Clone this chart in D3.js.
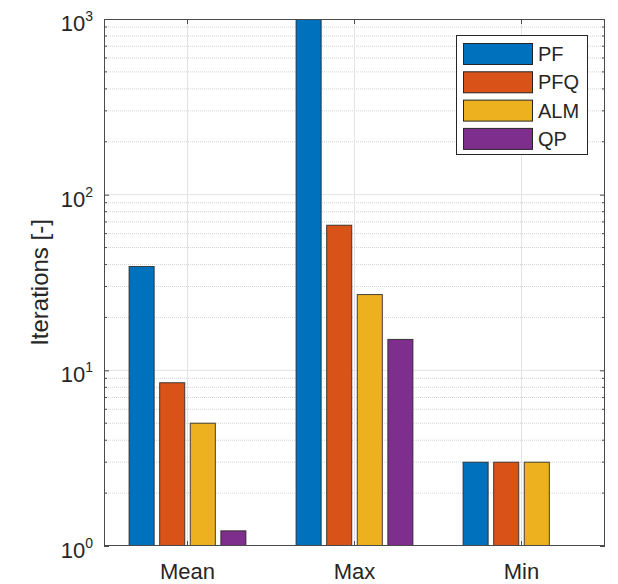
<!DOCTYPE html>
<html>
<head>
<meta charset="utf-8">
<script src="https://cdn.jsdelivr.net/npm/d3@7"></script>
<style>
  body { margin: 0; background: #fff; }
  text { font-family: "Liberation Sans", Arial, Helvetica, sans-serif; fill: #262626; }
</style>
</head>
<body>
<svg id="chart" width="618" height="584"></svg>
<script>
(function(d3) {
    'use strict';

    var categories = ['Mean', 'Max', 'Min'];
    var series = ['PF', 'PFQ', 'ALM', 'QP'];
    var colors = ['#0072BD', '#D95319', '#EDB120', '#7E2F8E'];
    var values = {
        PF:  [39, 1000, 3],
        PFQ: [8.5, 67, 3],
        ALM: [5, 27, 3],
        QP:  [1.22, 15, 1]
    };
    var yTickExps = [0, 1, 2, 3];

    var margin = { left: 104, right: 13, top: 19, bottom: 38 };
    var width = 618, height = 584;
    var svg = d3.select('#chart');

    var x = d3.scaleBand()
        .domain(categories)
        .range([margin.left, width - margin.right])
        .paddingInner(0).paddingOuter(0);

    var xs = d3.scaleBand()
        .domain(series)
        .range([0, x.bandwidth()])
        .paddingInner(0.18).paddingOuter(0.82);

    var y = d3.scaleLog()
        .domain([1, 1000])
        .range([height - margin.bottom, margin.top]);

    var plotW = width - margin.right - margin.left;

    // minor grid (dotted)
    var minor = [];
    for (var e = 0; e < 3; e++) {
        for (var m = 2; m <= 9; m++) minor.push(m * Math.pow(10, e));
    }
    var grid = svg.append('g').attr('class', 'grid');
    grid.selectAll('line.minor').data(minor).enter().append('line')
        .attr('class', 'minor')
        .attr('x1', margin.left).attr('x2', width - margin.right)
        .attr('y1', function(d) { return y(d); }).attr('y2', function(d) { return y(d); })
        .attr('stroke', '#d4d4d4').attr('stroke-width', 1)
        .attr('stroke-dasharray', '1,1');
    grid.selectAll('line.major').data([10, 100]).enter().append('line')
        .attr('class', 'major')
        .attr('x1', margin.left).attr('x2', width - margin.right)
        .attr('y1', function(d) { return y(d); }).attr('y2', function(d) { return y(d); })
        .attr('stroke', '#e3e3e3').attr('stroke-width', 1);
    grid.selectAll('line.vx').data(categories).enter().append('line')
        .attr('class', 'vx')
        .attr('x1', function(d) { return x(d) + x.bandwidth() / 2; })
        .attr('x2', function(d) { return x(d) + x.bandwidth() / 2; })
        .attr('y1', margin.top).attr('y2', height - margin.bottom)
        .attr('stroke', '#e3e3e3').attr('stroke-width', 1);

    // bars
    svg.append('clipPath').attr('id', 'plotclip').append('rect')
        .attr('x', margin.left).attr('y', margin.top)
        .attr('width', plotW).attr('height', height - margin.bottom - margin.top);

    var bars = svg.append('g').attr('clip-path', 'url(#plotclip)');
    series.forEach(function(s, si) {
        bars.selectAll('rect.s' + si).data(values[s]).enter().append('rect')
            .attr('x', function(d, i) { return x(categories[i]) + xs(s); })
            .attr('width', xs.bandwidth())
            .attr('y', function(d) { return y(d); })
            .attr('height', function(d) { return y(1) - y(d); })
            .attr('fill', colors[si])
            .attr('stroke', '#262626').attr('stroke-width', 1)
            .attr('stroke-opacity', function(d) { return d > 1 ? 0.85 : 0; });
    });

    // axes box
    var axisColor = '#4a4a4a';
    var yLeft = d3.axisLeft(y).tickValues(yTickExps.map(function(p) { return Math.pow(10, p); }))
        .tickSize(-5).tickFormat('');
    var yRight = d3.axisRight(y).tickValues(yTickExps.map(function(p) { return Math.pow(10, p); }))
        .tickSize(-5).tickFormat('');
    var gl = svg.append('g').attr('transform', 'translate(' + margin.left + ',0)').call(yLeft);
    var gr = svg.append('g').attr('transform', 'translate(' + (width - margin.right) + ',0)').call(yRight);
    var xb = d3.axisBottom(x).tickSize(-5).tickFormat('');
    var xt = d3.axisTop(x).tickSize(-5).tickFormat('');
    var gb = svg.append('g').attr('transform', 'translate(0,' + (height - margin.bottom) + ')').call(xb);
    var gt = svg.append('g').attr('transform', 'translate(0,' + margin.top + ')').call(xt);
    [gl, gr, gb, gt].forEach(function(g) {
        g.select('.domain').remove();
        g.selectAll('line').attr('stroke', axisColor);
    });

    // minor ticks
    [[margin.left, 3], [width - margin.right, -3]].forEach(function(p) {
        svg.append('g').selectAll('line').data(minor).enter().append('line')
            .attr('x1', p[0]).attr('x2', p[0] + p[1])
            .attr('y1', function(d) { return y(d); }).attr('y2', function(d) { return y(d); })
            .attr('stroke', axisColor);
    });

    svg.append('rect')
        .attr('x', margin.left + 0.5).attr('y', margin.top + 0.5)
        .attr('width', plotW - 1).attr('height', height - margin.bottom - margin.top - 1)
        .attr('fill', 'none').attr('stroke', axisColor).attr('stroke-width', 1);

    // y tick labels 10^n
    var yl = svg.append('g');
    yTickExps.forEach(function(p) {
        var t = yl.append('text')
            .attr('x', margin.left - 11)
            .attr('y', y(Math.pow(10, p)) + 12)
            .attr('text-anchor', 'end')
            .style('font-size', '22px');
        t.append('tspan').text('10');
        t.append('tspan').attr('dy', -10).style('font-size', '14px').text(p);
    });

    // x tick labels
    svg.append('g').selectAll('text').data(categories).enter().append('text')
        .attr('x', function(d) { return x(d) + x.bandwidth() / 2; })
        .attr('y', height - margin.bottom + 33)
        .attr('text-anchor', 'middle')
        .style('font-size', '22px')
        .text(function(d) { return d; });

    // y axis label
    svg.append('text')
        .attr('transform', 'translate(48,' + y(Math.sqrt(1000)) + ') rotate(-90)')
        .attr('text-anchor', 'middle')
        .style('font-size', '24px')
        .text('Iterations [-]');

    // legend
    var lg = svg.append('g').attr('transform', 'translate(456,35)');
    lg.append('rect').attr('x', 0.5).attr('y', 0.5).attr('width', 131).attr('height', 119)
        .attr('fill', '#fff').attr('stroke', '#262626').attr('stroke-width', 1);
    series.forEach(function(s, i) {
        var row = lg.append('g').attr('transform', 'translate(7,' + (8 + i * 28.3) + ')');
        row.append('rect').attr('x', 0.5).attr('y', 0.5).attr('width', 69).attr('height', 21)
            .attr('fill', colors[i]).attr('stroke', '#262626').attr('stroke-width', 1);
        row.append('text').attr('x', 75).attr('y', 18).style('font-size', '20px').text(s);
    });

}(window.d3));
</script>
</body>
</html>
